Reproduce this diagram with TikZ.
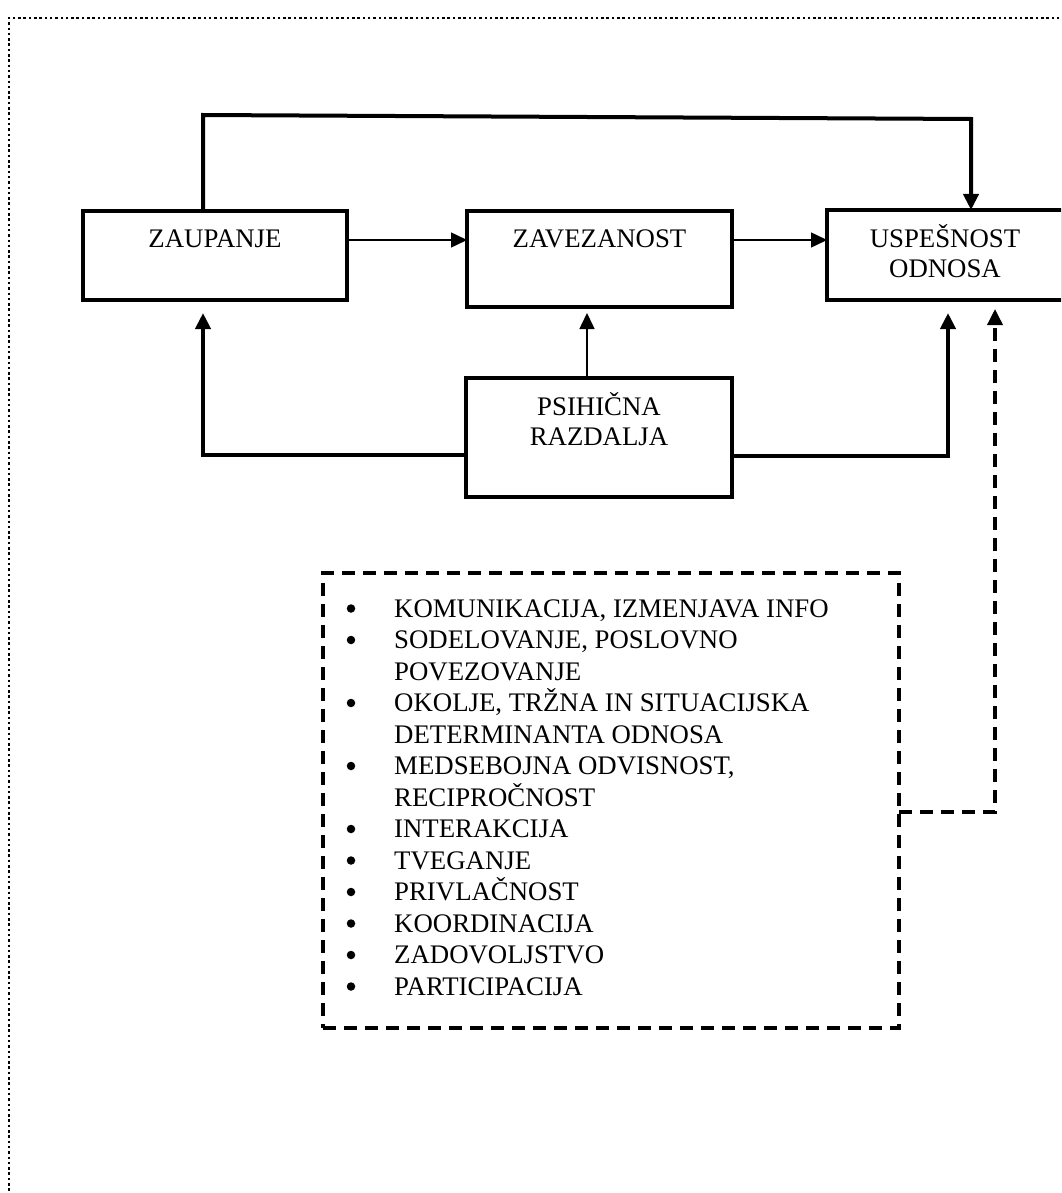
\documentclass[tikz,border=0pt]{standalone}
\usepackage{fontspec}
\setmainfont{Liberation Serif}
\usetikzlibrary{arrows.meta}
\begin{document}
\begin{tikzpicture}[x=1pt,y=-1pt,
  box/.style={draw, line width=4pt, rectangle, inner sep=0pt, outer sep=0pt},
  dbox/.style={draw, line width=3.5pt, dash pattern=on 13pt off 8pt, rectangle, inner sep=0pt, outer sep=0pt},
  lbl/.style={font=\fontsize{26.8}{31.5}\selectfont, inner sep=0pt, anchor=base},
  item/.style={font=\fontsize{26.8}{31.5}\selectfont, inner sep=0pt, anchor=base west},
  bul/.style={circle, fill=black, draw=none, inner sep=0pt, minimum size=8.5pt},
  tip/.style={-{Triangle[length=16pt,width=15pt]}},
  thickarrow/.style={tip, line width=4pt},
  thinarrow/.style={tip, line width=1.5pt},
  dasharrow/.style={tip, line width=3.5pt, dash pattern=on 13pt off 8pt},
  pageframe/.style={line width=2.6pt, dash pattern=on 2.5pt off 2.8pt}
]
\useasboundingbox (0,0) rectangle (1061,1193);
\clip (0,0) rectangle (1061,1193);

% page frame (top and left visible)
\draw[pageframe] (1070,18) -- (9,18) -- (9,1200);

% boxes
\node[box, minimum width=264pt, minimum height=89pt] (zau) at (215,255.5) {};
\node[box, minimum width=265pt, minimum height=96pt] (zav) at (599.5,259) {};
\node[box, minimum width=236pt, minimum height=90pt] (usp) at (945,255) {};
\node[box, minimum width=266pt, minimum height=119pt] (psi) at (599,437.5) {};
\node[dbox, minimum width=576pt, minimum height=455pt] (lst) at (611,800.5) {};

% labels
\node[lbl] (tzau) at (215,247) {ZAUPANJE};
\node[lbl] (tzav) at (599.5,247) {ZAVEZANOST};
\node[lbl] (tusp1) at (945,247) {USPEŠNOST};
\node[lbl] (tusp2) at (945,277) {ODNOSA};
\node[lbl] (tpsi1) at (599,415) {PSIHIČNA};
\node[lbl] (tpsi2) at (599,445) {RAZDALJA};

% list
\foreach \k/\b/\t in {0/1/{KOMUNIKACIJA, IZMENJAVA INFO},
                      1/1/{SODELOVANJE, POSLOVNO},
                      2/0/{POVEZOVANJE},
                      3/1/{OKOLJE, TRŽNA IN SITUACIJSKA},
                      4/0/{DETERMINANTA ODNOSA},
                      5/1/{MEDSEBOJNA ODVISNOST,},
                      6/0/{RECIPROČNOST},
                      7/1/{INTERAKCIJA},
                      8/1/{TVEGANJE},
                      9/1/{PRIVLAČNOST},
                      10/1/{KOORDINACIJA},
                      11/1/{ZADOVOLJSTVO},
                      12/1/{PARTICIPACIJA}} {
  \node[item] (it\k) at (394,617+31.5*\k) {\t};
  \ifnum\b=1
    \node[bul] (bu\k) at (351,608.5+31.5*\k) {};
  \fi
}

% connectors
\draw[thickarrow] (zau.north -| 203,0) -- (203,115) -- (971,119) -- (usp.north -| 971,0);
\draw[thinarrow] (zau.east |- 0,240) -- (zav.west |- 0,240);
\draw[thinarrow] (zav.east |- 0,240) -- (usp.west |- 0,240);
\draw[thinarrow] (psi.north -| 587,0) -- (587,313);
\draw[thickarrow] (psi.west |- 0,455) -| (203,313);
\draw[thickarrow] (psi.east |- 0,456) -| (948,313);
\draw[dasharrow] (lst.east |- 0,812) -| (995,309);
\end{tikzpicture}
\end{document}
